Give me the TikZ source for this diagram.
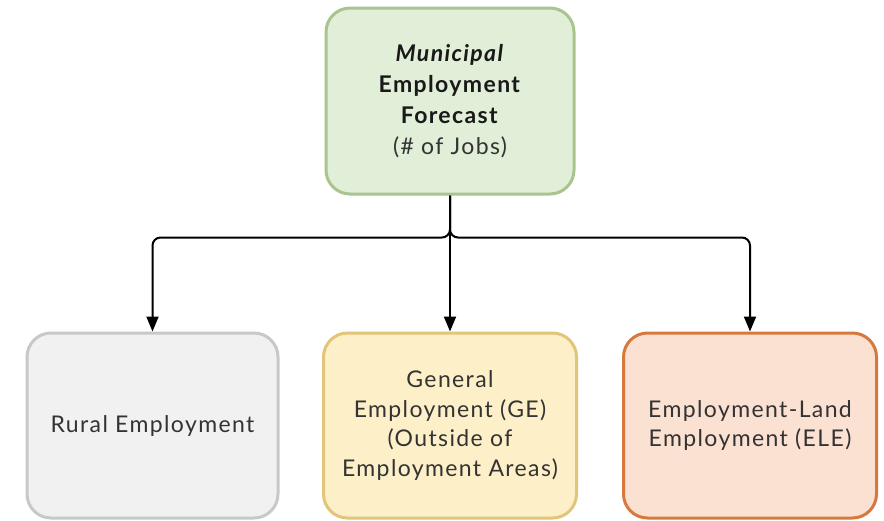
\documentclass[tikz,border=0pt]{standalone}
\usepackage{fontspec}
\setmainfont[LetterSpace=6]{Lato}
\usetikzlibrary{arrows.meta}
\definecolor{gfill}{HTML}{E1EED8}
\definecolor{gdraw}{HTML}{A9C48F}
\definecolor{rfill}{HTML}{F1F1F1}
\definecolor{rdraw}{HTML}{C8C8C8}
\definecolor{yfill}{HTML}{FDF0C8}
\definecolor{ydraw}{HTML}{E2C47B}
\definecolor{ofill}{HTML}{FAE1D2}
\definecolor{odraw}{HTML}{D6793E}
\definecolor{txt}{HTML}{333333}
\tikzset{
  box/.style={rounded corners=24pt, line width=3pt, align=center, inner sep=0pt,
    font=\fontsize{23}{29.5}\selectfont, text=txt},
  conn/.style={line width=2pt, rounded corners=8pt, -{Triangle[width=12pt,length=15pt]}}
}
\begin{document}
\begin{tikzpicture}[x=1pt,y=-1pt]
\useasboundingbox (0,0) rectangle (884,520);
\node[box, draw=gdraw, fill=gfill, minimum width=248pt, minimum height=186pt, text=black!90,
  font=\fontsize{23}{31}\selectfont] (top) at (450,101)
  {\textbf{\textit{Municipal}}\\ \textbf{Employment}\\ \textbf{Forecast}\\ \color{txt}(\# of Jobs)};
\node[box, draw=rdraw, fill=rfill, minimum width=251pt, minimum height=185pt] (rural) at (152.5,425.5) {Rural Employment};
\node[box, draw=ydraw, fill=yfill, minimum width=253pt, minimum height=185pt] (ge) at (450,425.5)
  {General\\ Employment (GE)\\ (Outside of\\ Employment Areas)};
\node[box, draw=odraw, fill=ofill, minimum width=253pt, minimum height=185pt] (ele) at (750,425.5)
  {Employment-Land\\ Employment (ELE)};
\draw[conn] (top.south) -- ++(0,42) -| (rural.north);
\draw[conn] (top.south) -- ++(0,42) -| (ele.north);
\draw[conn] (top.south) -- (ge.north);
\end{tikzpicture}
\end{document}
